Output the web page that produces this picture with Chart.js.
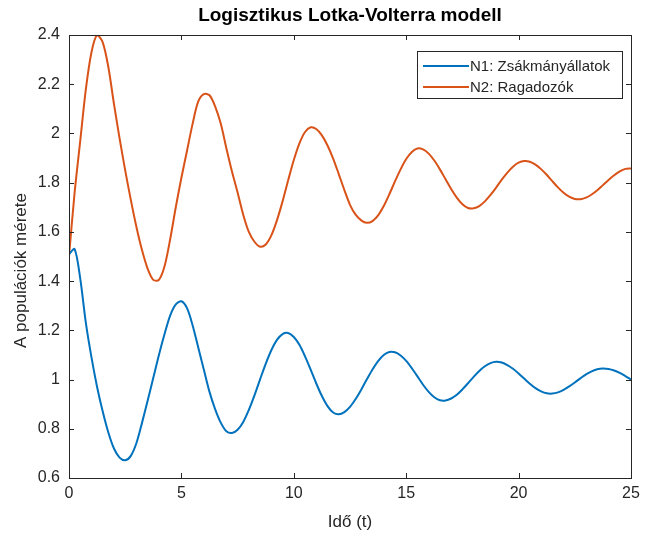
<!DOCTYPE html>
<html>
<head>
<meta charset="utf-8">
<script src="https://cdn.jsdelivr.net/npm/chart.js@4"></script>
<style>
  html, body { margin: 0; padding: 0; background: #fff; }
  #wrap { width: 647px; height: 540px; }
</style>
</head>
<body>
<div id="wrap"><canvas id="chart" width="647" height="540"></canvas></div>
<script>
const times = [
  0, 0.25, 0.5, 0.75, 1, 1.25, 1.5, 1.75, 2, 2.25, 2.5, 2.75, 3, 3.25, 3.5, 3.75,
  4, 4.25, 4.5, 4.75, 5, 5.25, 5.5, 5.75, 6, 6.25, 6.5, 6.75, 7, 7.25, 7.5, 7.75,
  8, 8.25, 8.5, 8.75, 9, 9.25, 9.5, 9.75, 10, 10.25, 10.5, 10.75, 11, 11.25, 11.5, 11.75,
  12, 12.25, 12.5, 12.75, 13, 13.25, 13.5, 13.75, 14, 14.25, 14.5, 14.75, 15, 15.25, 15.5, 15.75,
  16, 16.25, 16.5, 16.75, 17, 17.25, 17.5, 17.75, 18, 18.25, 18.5, 18.75, 19, 19.25, 19.5, 19.75,
  20, 20.25, 20.5, 20.75, 21, 21.25, 21.5, 21.75, 22, 22.25, 22.5, 22.75, 23, 23.25, 23.5, 23.75,
  24, 24.25, 24.5, 24.75, 25
];

// N1: Zsákmányállatok (prey)
const prey = [
  1.51, 1.53, 1.41, 1.23, 1.09, 0.97, 0.87, 0.785, 0.72, 0.683, 0.672, 0.69, 0.742, 0.825, 0.915, 1.007,
  1.10, 1.185, 1.26, 1.305, 1.318, 1.29, 1.22, 1.13, 1.04, 0.95, 0.88, 0.825, 0.79, 0.783, 0.796, 0.828,
  0.877, 0.936, 1.001, 1.064, 1.119, 1.161, 1.185, 1.189, 1.173, 1.141, 1.094, 1.040, 0.984, 0.933, 0.892, 0.866,
  0.859, 0.868, 0.889, 0.921, 0.959, 1.001, 1.041, 1.075, 1.100, 1.112, 1.111, 1.098, 1.076, 1.046, 1.013, 0.979,
  0.950, 0.928, 0.916, 0.915, 0.923, 0.938, 0.960, 0.985, 1.011, 1.035, 1.054, 1.067, 1.072, 1.069, 1.059, 1.044,
  1.025, 1.004, 0.983, 0.965, 0.952, 0.944, 0.943, 0.948, 0.958, 0.972, 0.988, 1.005, 1.021, 1.033, 1.042, 1.045,
  1.043, 1.037, 1.027, 1.014, 1.000
];

// N2: Ragadozók (predators)
const predators = [
  1.50, 1.76, 1.97, 2.18, 2.33, 2.40, 2.37, 2.27, 2.12, 1.98, 1.85, 1.73, 1.62, 1.525, 1.45, 1.405,
  1.405, 1.46, 1.57, 1.70, 1.82, 1.93, 2.04, 2.13, 2.16, 2.155, 2.11, 2.04, 1.94, 1.845, 1.76, 1.67,
  1.60, 1.56, 1.54, 1.549, 1.586, 1.647, 1.724, 1.810, 1.892, 1.960, 2.006, 2.025, 2.018, 1.992, 1.951, 1.898,
  1.835, 1.77, 1.71, 1.67, 1.647, 1.637, 1.644, 1.667, 1.705, 1.753, 1.805, 1.854, 1.896, 1.925, 1.939, 1.935,
  1.918, 1.890, 1.854, 1.814, 1.774, 1.739, 1.712, 1.697, 1.696, 1.705, 1.724, 1.750, 1.780, 1.812, 1.841, 1.865,
  1.881, 1.888, 1.885, 1.873, 1.855, 1.832, 1.806, 1.781, 1.759, 1.743, 1.734, 1.733, 1.739, 1.752, 1.769, 1.790,
  1.811, 1.830, 1.846, 1.856, 1.858
];

const seriesNames = ['N1: Zsákmányállatok', 'N2: Ragadozók'];
const chartTitle = 'Logisztikus Lotka-Volterra modell';
const xTitle = 'Idő (t)';
const yTitle = 'A populációk mérete';

const FONT = '"Liberation Sans", Arial, Helvetica, sans-serif';
const INK = '#262626';

function points(ys) {
  return times.map((t, i) => ({ x: t, y: ys[i] }));
}

// box, inward ticks, title, axis titles and legend like a matlab figure
const matlabLook = {
  id: 'matlabLook',
  afterDraw(chart) {
    const ctx = chart.ctx;
    const a = chart.chartArea;
    const xs = chart.scales.x, ys = chart.scales.y;
    ctx.save();
    ctx.strokeStyle = INK;
    ctx.lineWidth = 1;
    ctx.strokeRect(Math.round(a.left) + 0.5, Math.round(a.top) + 0.5,
      Math.round(a.right - a.left), Math.round(a.bottom - a.top));

    ctx.beginPath();
    xs.ticks.forEach(t => {
      const px = Math.round(xs.getPixelForValue(t.value)) + 0.5;
      ctx.moveTo(px, a.bottom); ctx.lineTo(px, a.bottom - 5);
      ctx.moveTo(px, a.top); ctx.lineTo(px, a.top + 5);
    });
    ys.ticks.forEach(t => {
      const py = Math.round(ys.getPixelForValue(t.value)) + 0.5;
      ctx.moveTo(a.left, py); ctx.lineTo(a.left + 5, py);
      ctx.moveTo(a.right, py); ctx.lineTo(a.right - 5, py);
    });
    ctx.stroke();

    ctx.fillStyle = '#000';
    ctx.textAlign = 'center';
    ctx.textBaseline = 'middle';
    ctx.font = 'bold 19px ' + FONT;
    ctx.fillText(chartTitle, (a.left + a.right) / 2, 16);

    ctx.fillStyle = INK;
    ctx.font = '17px ' + FONT;
    ctx.fillText(xTitle, (a.left + a.right) / 2, 522);
    ctx.save();
    ctx.translate(21, (a.top + a.bottom) / 2 + 14);
    ctx.rotate(-Math.PI / 2);
    ctx.fillText(yTitle, 0, 0);
    ctx.restore();

    // legend box
    const lx = 417, ly = 51, lw = 205, lh = 47;
    ctx.fillStyle = '#fff';
    ctx.fillRect(lx, ly, lw, lh);
    ctx.strokeStyle = INK;
    ctx.strokeRect(lx + 0.5, ly + 0.5, lw, lh);
    ctx.font = '15px ' + FONT;
    ctx.textAlign = 'left';
    chart.data.datasets.forEach((ds, i) => {
      const y = ly + 15 + i * 21;
      ctx.strokeStyle = ds.borderColor;
      ctx.lineWidth = 2;
      ctx.beginPath();
      ctx.moveTo(lx + 6, y); ctx.lineTo(lx + 52, y);
      ctx.stroke();
      ctx.fillStyle = INK;
      ctx.fillText(ds.label, lx + 53, y + 1);
    });
    ctx.restore();
  }
};

new Chart(document.getElementById('chart'), {
  type: 'line',
  data: {
    datasets: [
      { label: seriesNames[0], data: points(prey), borderColor: '#0072BD', borderWidth: 2, pointRadius: 0, tension: 0.3, fill: false },
      { label: seriesNames[1], data: points(predators), borderColor: '#D95319', borderWidth: 2, pointRadius: 0, tension: 0.3, fill: false }
    ]
  },
  options: {
    responsive: false,
    animation: false,
    layout: { padding: { top: 35, right: 16, left: 0, bottom: 0 } },
    plugins: { legend: { display: false }, title: { display: false }, tooltip: { enabled: false } },
    scales: {
      x: {
        type: 'linear', min: 0, max: 25,
        ticks: { stepSize: 5, color: INK, font: { family: FONT, size: 16 }, padding: 6, maxRotation: 0 },
        grid: { drawOnChartArea: false, drawTicks: false },
        border: { display: false },
        afterFit(scale) { scale.height = 62; }
      },
      y: {
        min: 0.6, max: 2.4,
        ticks: { stepSize: 0.2, color: INK, font: { family: FONT, size: 16 }, padding: 9,
          callback: v => String(+v.toFixed(1)) },
        grid: { drawOnChartArea: false, drawTicks: false },
        border: { display: false },
        afterFit(scale) { scale.width = 69; }
      }
    }
  },
  plugins: [matlabLook]
});
</script>
</body>
</html>
